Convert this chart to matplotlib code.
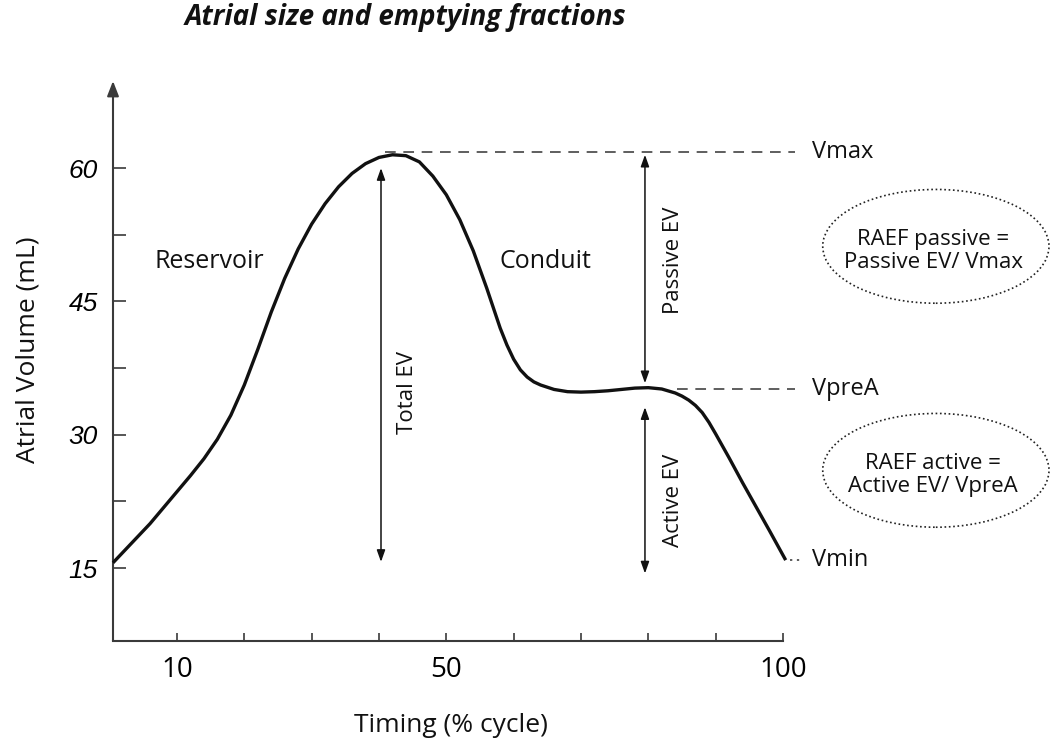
import matplotlib
matplotlib.use("Agg")
import matplotlib.pyplot as plt
from matplotlib.patches import Ellipse

plt.rcParams['font.family'] = ['Open Sans', 'DejaVu Sans']

# curve (timing % cycle, atrial volume mL)
timing = [0.5, 2, 4, 6, 8, 10, 12, 14, 16, 18, 20, 22, 24, 26, 28, 30, 32, 34,
          36, 38, 40, 42, 44, 46, 48, 50, 52, 54, 56, 58, 59, 60, 61, 62, 63,
          64, 66, 68, 70, 72, 74, 76, 78, 80, 82, 84, 85, 86, 87, 88, 89, 90,
          92, 94, 96, 98, 100.4]
volume = [15.6, 16.8, 18.4, 20.0, 21.8, 23.6, 25.4, 27.3, 29.5, 32.2, 35.6,
          39.6, 43.8, 47.6, 50.9, 53.7, 56.0, 57.9, 59.4, 60.5, 61.2, 61.5,
          61.4, 60.7, 59.1, 57.0, 54.2, 50.7, 46.5, 42.0, 40.1, 38.5, 37.3,
          36.5, 35.95, 35.6, 35.1, 34.85, 34.8, 34.85, 34.95, 35.1, 35.25,
          35.3, 35.15, 34.7, 34.35, 33.9, 33.3, 32.5, 31.4, 30.1, 27.4, 24.6,
          21.9, 19.2, 15.9]

v_max = 61.8
v_prea = 35.1
v_min = 15.9

x_ticks = [10, 20, 30, 40, 50, 60, 70, 80, 90, 100]
x_tick_labels = ["10", "", "", "", "50", "", "", "", "", "100"]
y_major = [15, 30, 45, 60]
y_minor = [22.5, 37.5, 52.5]

fig = plt.figure(figsize=(10.5, 7.43), dpi=100)
ax = fig.add_axes([113 / 1050, 102 / 743, 670 / 1050, 560 / 743])
ax.set_xlim(0.5, 100)
ax.set_ylim(6.8, 69.8)

ink = "#111111"
axis_col = "#3a3a3a"

ax.plot(timing, volume, color=ink, lw=2.4, solid_joinstyle="round",
        solid_capstyle="butt", clip_on=False, zorder=5)

# axes: left spine drawn as an arrow, bottom spine plain
for s in ["top", "right", "left"]:
    ax.spines[s].set_visible(False)
ax.spines["bottom"].set_color(axis_col)
ax.spines["bottom"].set_linewidth(1.5)
ax.annotate("", xy=(0, 1), xytext=(0, 0), xycoords="axes fraction",
            arrowprops=dict(arrowstyle="-|>,head_length=0.9,head_width=0.35",
                            color=axis_col, lw=1.5, shrinkA=0, shrinkB=0))

ax.set_xticks(x_ticks)
ax.set_xticklabels(x_tick_labels, fontsize=20)
ax.tick_params(axis="x", direction="in", length=6, width=1.2, color=axis_col, pad=11)
ax.set_yticks(y_major)
ax.set_yticklabels([str(v) for v in y_major], fontsize=19, family="Liberation Sans",
                   style="italic")
ax.set_yticks(y_minor, minor=True)
ax.tick_params(axis="y", which="both", direction="in", length=9, width=1.2,
               color=axis_col, pad=11)

# reference lines
ax.plot([40.9, 101.8], [v_max, v_max], color="#333333", lw=1.1, ls=(0, (7, 5)), clip_on=False)
ax.plot([84.3, 101.8], [v_prea, v_prea], color="#333333", lw=1.1, ls=(0, (7, 5)), clip_on=False)
ax.plot([101.0, 102.9], [v_min, v_min], color="#333333", lw=1.1, ls=(0, (1.5, 3)), clip_on=False)
lab = dict(fontsize=17, va="center", ha="left", color=ink)
ax.text(104.3, v_max, "Vmax", **lab)
ax.text(104.3, v_prea, "VpreA", **lab)
ax.text(104.3, v_min, "Vmin", **lab)

# double arrows
def dbl(x, y0, y1):
    ax.annotate("", xy=(x, y1), xytext=(x, y0),
                arrowprops=dict(arrowstyle="<|-|>,head_length=0.7,head_width=0.25",
                                color=ink, lw=1.1, shrinkA=0, shrinkB=0))

dbl(40.3, 15.7, 60.0)
dbl(79.5, 35.8, 61.5)
dbl(79.5, 14.4, 33.1)

rot = dict(fontsize=16, rotation=90, ha="center", va="center", color=ink)
ax.text(44.3, 34.7, "Total EV", **rot)
ax.text(83.7, 49.6, "Passive EV", **rot)
ax.text(83.7, 22.6, "Active EV", **rot)

ax.text(14.8, 49.5, "Reservoir", fontsize=18, ha="center", va="center", color=ink)
ax.text(64.7, 49.5, "Conduit", fontsize=18, ha="center", va="center", color=ink)

# formula bubbles
for cy, txt in [(51.2, "RAEF passive =\nPassive EV/ Vmax"),
                (26.0, "RAEF active =\nActive EV/ VpreA")]:
    ax.add_patch(Ellipse((122.7, cy), 33.6, 12.8, fill=False, ec="#222222",
                         lw=1.2, ls=(0, (1, 1.6)), clip_on=False))
    ax.text(122.3, cy - 0.5, txt, fontsize=16, ha="center", va="center",
            color=ink, linespacing=1.15)

fig.text(0.386, 0.976, "Atrial size and emptying fractions", fontsize=20,
         fontweight="bold", style="italic", ha="center", va="center", color=ink)
fig.text(0.027, 1 - 350 / 743, "Atrial Volume (mL)", fontsize=19, rotation=90,
         ha="center", va="center", color=ink)
fig.text(451 / 1050, 1 - 725 / 743, "Timing (% cycle)", fontsize=19,
         ha="center", va="center", color=ink)

fig.savefig("out.png", dpi=100, facecolor="white")
